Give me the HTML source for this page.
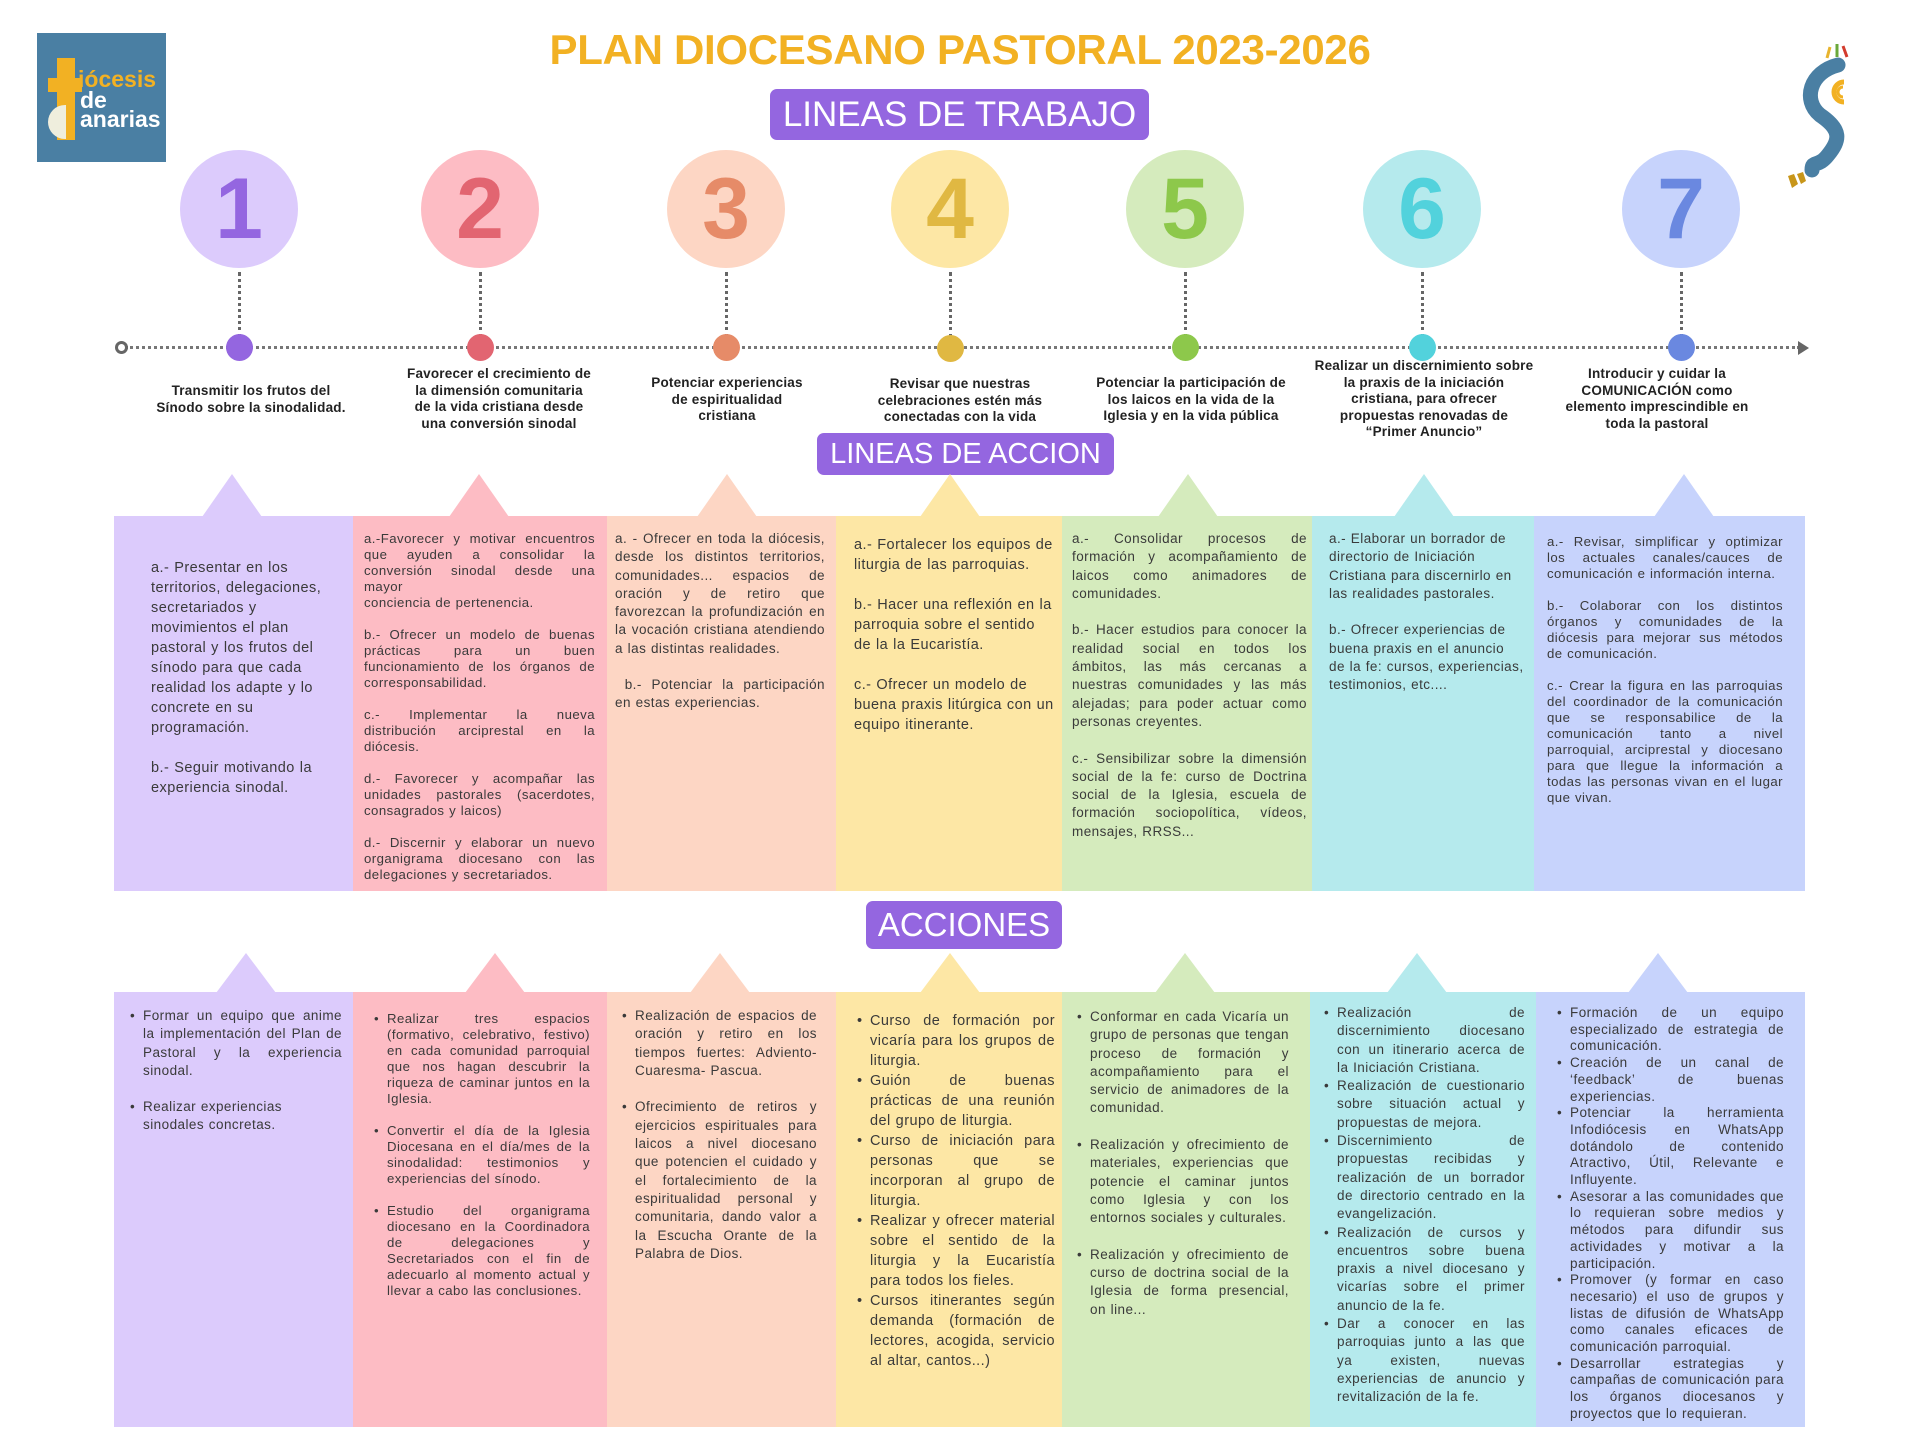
<!DOCTYPE html>
<html><head><meta charset="utf-8">
<style>
*{margin:0;padding:0;box-sizing:border-box}
body{width:1920px;height:1440px;background:#fff;position:relative;overflow:hidden;font-family:"Liberation Sans",sans-serif;color:#3a3a3a}
.a{position:absolute}
.title{left:0;width:1920px;top:26px;text-align:center;font-weight:bold;font-size:42px;color:#f2b123;letter-spacing:-0.3px}
.pill{background:#9466e0;color:#fff;border-radius:7px;text-align:center}
.circ{width:118px;height:118px;border-radius:50%;text-align:center;line-height:118px;font-weight:bold;font-size:86px}
.vd{width:0;border-left:3px dotted #666;top:272px;height:66px}
.dot{width:27px;height:27px;border-radius:50%;top:334px}
.lab{font-weight:bold;font-size:13.5px;line-height:16.6px;text-align:center;color:#222;width:250px;letter-spacing:0.2px}
.col{top:516px;height:375px}
.colb{top:992px;height:435px}
.tri{width:0;height:0;border-left:30px solid transparent;border-right:30px solid transparent}
.t{font-size:13.2px;line-height:16px;text-align:justify}
.t p{margin-bottom:16px}
.ls{letter-spacing:0.45px;word-spacing:0.5px}
ul{list-style:none}
li{position:relative;text-align:justify}
li:before{content:"•";position:absolute;left:-13px}
</style></head><body>

<!-- logo left -->
<div class="a" style="left:37px;top:33px;width:129px;height:129px;background:#4a7fa3"></div>
<div class="a" style="left:57px;top:58px;width:18px;height:82px;background:#f2b123"></div>
<div class="a" style="left:48px;top:78px;width:34px;height:14px;background:#f2b123"></div>
<div class="a" style="left:48px;top:105px;width:18px;height:34px;background:#efeedd;border-radius:17px 0 0 17px"></div>
<div class="a" style="left:78px;top:68px;font-weight:bold;font-size:23px;color:#f2b123;line-height:22px">iócesis</div>
<div class="a" style="left:80px;top:90px;font-weight:bold;font-size:23px;color:#fff;line-height:20px">de</div>
<div class="a" style="left:80px;top:108px;font-weight:bold;font-size:23px;color:#fff;line-height:22px">anarias</div>

<!-- logo right -->
<svg class="a" style="left:1780px;top:30px" width="140" height="170">
<path d="M58 35 C30 42 22 70 40 85 C62 100 60 110 48 125 C38 138 32 130 32 140" fill="none" stroke="#4a7fa3" stroke-width="15" stroke-linecap="round"/>
<path d="M64 52 A10 10 0 0 0 64 72" fill="none" stroke="#f2b123" stroke-width="5"/>
<path d="M63 57 A5 5 0 0 0 63 67" fill="none" stroke="#f2b123" stroke-width="3"/>
<line x1="47" y1="28" x2="50" y2="17" stroke="#e8b42e" stroke-width="3"/>
<line x1="57" y1="27" x2="57" y2="14" stroke="#6aa83a" stroke-width="3"/>
<line x1="67" y1="27" x2="63" y2="16" stroke="#d33c2e" stroke-width="3"/>
<path d="M8 146 l6 -2 l4 10 l-6 4z M17 144 l6 -2 l3 9 l-5 3z" fill="#c8961a"/>
</svg>

<div class="a title">PLAN DIOCESANO PASTORAL 2023-2026</div>
<div class="a pill" style="left:770px;top:89px;width:379px;height:51px;font-size:35px;line-height:51px">LINEAS DE TRABAJO</div>

<!-- circles -->
<div class="a circ" style="left:180px;top:150px;background:#dccbfc;color:#9466e0">1</div>
<div class="a circ" style="left:421px;top:150px;background:#fdbcc4;color:#e26571">2</div>
<div class="a circ" style="left:667px;top:150px;background:#fdd6c4;color:#e68b68">3</div>
<div class="a circ" style="left:891px;top:150px;background:#fde7a5;color:#e0b842">4</div>
<div class="a circ" style="left:1126px;top:150px;background:#d5ebbd;color:#8dc84b">5</div>
<div class="a circ" style="left:1363px;top:150px;background:#b5eaed;color:#52d2dc">6</div>
<div class="a circ" style="left:1622px;top:150px;background:#c7d3fc;color:#6a88e0">7</div>

<!-- timeline -->
<div class="a" style="left:125px;top:346px;width:1675px;border-top:3px dotted #777"></div>
<div class="a" style="left:115px;top:341px;width:13px;height:13px;border:3px solid #666;border-radius:50%;background:#fff"></div>
<div class="a" style="left:1798px;top:341px;width:0;height:0;border-top:7px solid transparent;border-bottom:7px solid transparent;border-left:11px solid #666"></div>
<div class="a vd" style="left:238px"></div>
<div class="a vd" style="left:479px"></div>
<div class="a vd" style="left:725px"></div>
<div class="a vd" style="left:949px"></div>
<div class="a vd" style="left:1184px"></div>
<div class="a vd" style="left:1421px"></div>
<div class="a vd" style="left:1680px"></div>
<div class="a dot" style="left:226px;background:#9466e0"></div>
<div class="a dot" style="left:467px;background:#e26571"></div>
<div class="a dot" style="left:713px;background:#e68b68"></div>
<div class="a dot" style="left:937px;top:335px;background:#e0b842"></div>
<div class="a dot" style="left:1172px;background:#8dc84b"></div>
<div class="a dot" style="left:1409px;background:#52d2dc"></div>
<div class="a dot" style="left:1668px;background:#6a88e0"></div>

<div class="a lab" style="left:126px;top:383px">Transmitir los frutos del<br>Sínodo sobre la sinodalidad.</div>
<div class="a lab" style="left:374px;top:366px">Favorecer el crecimiento de<br>la dimensión comunitaria<br>de la vida cristiana desde<br>una conversión sinodal</div>
<div class="a lab" style="left:602px;top:375px">Potenciar experiencias<br>de espiritualidad<br>cristiana</div>
<div class="a lab" style="left:835px;top:376px">Revisar que nuestras<br>celebraciones estén más<br>conectadas con la vida</div>
<div class="a lab" style="left:1066px;top:375px">Potenciar la participación de<br>los laicos en la vida de la<br>Iglesia y en la vida pública</div>
<div class="a lab" style="left:1295px;top:358px;width:258px">Realizar un discernimiento sobre<br>la praxis de la iniciación<br>cristiana, para ofrecer<br>propuestas renovadas de<br>“Primer Anuncio”</div>
<div class="a lab" style="left:1532px;top:366px">Introducir y cuidar la<br>COMUNICACIÓN como<br>elemento imprescindible en<br>toda la pastoral</div>

<div class="a pill" style="left:817px;top:433px;width:297px;height:42px;font-size:29px;line-height:42px">LINEAS DE ACCION</div>

<!-- row 1 triangles -->
<div class="a tri" style="left:202px;top:474px;border-bottom:43px solid #dccbfc"></div>
<div class="a tri" style="left:449px;top:474px;border-bottom:43px solid #fdbcc4"></div>
<div class="a tri" style="left:697px;top:474px;border-bottom:43px solid #fdd6c4"></div>
<div class="a tri" style="left:920px;top:474px;border-bottom:43px solid #fde7a5"></div>
<div class="a tri" style="left:1158px;top:474px;border-bottom:43px solid #d5ebbd"></div>
<div class="a tri" style="left:1394px;top:474px;border-bottom:43px solid #b5eaed"></div>
<div class="a tri" style="left:1654px;top:474px;border-bottom:43px solid #c7d3fc"></div>

<!-- row 1 columns -->
<div class="a col" style="left:114px;width:239px;background:#dccbfc"></div>
<div class="a col" style="left:353px;width:254px;background:#fdbcc4"></div>
<div class="a col" style="left:607px;width:229px;background:#fdd6c4"></div>
<div class="a col" style="left:836px;width:226px;background:#fde7a5"></div>
<div class="a col" style="left:1062px;width:250px;background:#d5ebbd"></div>
<div class="a col" style="left:1312px;width:222px;background:#b5eaed"></div>
<div class="a col" style="left:1534px;width:271px;background:#c7d3fc"></div>

<div class="a ls" style="left:151px;top:558px;width:182px;font-size:14.5px;line-height:20px">
<p style="margin-bottom:20px">a.- Presentar en los territorios, delegaciones, secretariados y movimientos el plan pastoral y los frutos del sínodo para que cada realidad los adapte y lo concrete en su programación.</p>
<p>b.- Seguir motivando la experiencia sinodal.</p></div>

<div class="a t ls" style="left:364px;top:531px;width:231px">
<p>a.-Favorecer y motivar encuentros que ayuden a consolidar la conversión sinodal desde una mayor<br>conciencia de pertenencia.</p>
<p>b.- Ofrecer un modelo de buenas prácticas para un buen funcionamiento de los órganos de corresponsabilidad.</p>
<p>c.- Implementar la nueva distribución arciprestal en la diócesis.</p>
<p>d.- Favorecer y acompañar las unidades pastorales (sacerdotes, consagrados y laicos)</p>
<p>d.- Discernir y elaborar un nuevo organigrama diocesano con las delegaciones y secretariados.</p></div>

<div class="a t ls" style="left:615px;top:530px;width:210px;font-size:13.5px;line-height:18.3px">
<p style="margin-bottom:18px">a. - Ofrecer en toda la diócesis, desde los distintos territorios, comunidades... espacios de oración y de retiro que favorezcan la profundización en la vocación cristiana atendiendo a las distintas realidades.</p>
<p>&nbsp;b.- Potenciar la participación en estas experiencias.</p></div>

<div class="a ls" style="left:854px;top:535px;width:200px;font-size:14.5px;line-height:20px">
<p style="margin-bottom:20px">a.- Fortalecer los equipos de liturgia de las parroquias.</p>
<p style="margin-bottom:20px">b.- Hacer una reflexión en la parroquia sobre el sentido de la la Eucaristía.</p>
<p>c.- Ofrecer un modelo de buena praxis litúrgica con un equipo itinerante.</p></div>

<div class="a t ls" style="left:1072px;top:530px;width:235px;font-size:13.5px;line-height:18.3px">
<p style="margin-bottom:18.3px">a.- Consolidar procesos de formación y acompañamiento de laicos como animadores de comunidades.</p>
<p style="margin-bottom:18.3px">b.- Hacer estudios para conocer la realidad social en todos los ámbitos, las más cercanas a nuestras comunidades y las más alejadas; para poder actuar como personas creyentes.</p>
<p>c.- Sensibilizar sobre la dimensión social de la fe: curso de Doctrina social de la Iglesia, escuela de formación sociopolítica, vídeos, mensajes, RRSS...</p></div>

<div class="a ls" style="left:1329px;top:530px;width:195px;font-size:13.5px;line-height:18.3px">
<p style="margin-bottom:18.3px">a.- Elaborar un borrador de directorio de Iniciación Cristiana para discernirlo en las realidades pastorales.</p>
<p>b.- Ofrecer experiencias de buena praxis en el anuncio de la fe: cursos, experiencias, testimonios, etc....</p></div>

<div class="a t ls" style="left:1547px;top:534px;width:236px">
<p>a.- Revisar, simplificar y optimizar los actuales canales/cauces de comunicación e información interna.</p>
<p>b.- Colaborar con los distintos órganos y comunidades de la diócesis para mejorar sus métodos de comunicación.</p>
<p>c.- Crear la figura en las parroquias del coordinador de la comunicación que se responsabilice de la comunicación tanto a nivel parroquial, arciprestal y diocesano para que llegue la información a todas las personas vivan en el lugar que vivan.</p></div>

<div class="a pill" style="left:866px;top:901px;width:196px;height:48px;font-size:33px;line-height:48px">ACCIONES</div>

<!-- row 2 triangles -->
<div class="a tri" style="left:216px;top:953px;border-bottom:40px solid #dccbfc"></div>
<div class="a tri" style="left:465px;top:953px;border-bottom:40px solid #fdbcc4"></div>
<div class="a tri" style="left:690px;top:953px;border-bottom:40px solid #fdd6c4"></div>
<div class="a tri" style="left:920px;top:953px;border-bottom:40px solid #fde7a5"></div>
<div class="a tri" style="left:1155px;top:953px;border-bottom:40px solid #d5ebbd"></div>
<div class="a tri" style="left:1387px;top:953px;border-bottom:40px solid #b5eaed"></div>
<div class="a tri" style="left:1628px;top:953px;border-bottom:40px solid #c7d3fc"></div>

<div class="a colb" style="left:114px;width:239px;background:#dccbfc"></div>
<div class="a colb" style="left:353px;width:254px;background:#fdbcc4"></div>
<div class="a colb" style="left:607px;width:229px;background:#fdd6c4"></div>
<div class="a colb" style="left:836px;width:226px;background:#fde7a5"></div>
<div class="a colb" style="left:1062px;width:248px;background:#d5ebbd"></div>
<div class="a colb" style="left:1310px;width:226px;background:#b5eaed"></div>
<div class="a colb" style="left:1536px;width:269px;background:#c7d3fc"></div>

<ul class="a ls" style="left:143px;top:1007px;width:199px;font-size:13.5px;line-height:18.3px">
<li style="margin-bottom:18px">Formar un equipo que anime la implementación del Plan de Pastoral y la experiencia sinodal.</li>
<li style="text-align:left">Realizar experiencias sinodales concretas.</li></ul>

<ul class="a ls" style="left:387px;top:1011px;width:203px;font-size:13.2px;line-height:16px">
<li style="margin-bottom:16px">Realizar tres espacios (formativo, celebrativo, festivo) en cada comunidad parroquial que nos hagan descubrir la riqueza de caminar juntos en la Iglesia.</li>
<li style="margin-bottom:16px">Convertir el día de la Iglesia Diocesana en el día/mes de la sinodalidad: testimonios y experiencias del sínodo.</li>
<li>Estudio del organigrama diocesano en la Coordinadora de delegaciones y Secretariados con el fin de adecuarlo al momento actual y llevar a cabo las conclusiones.</li></ul>

<ul class="a ls" style="left:635px;top:1007px;width:182px;font-size:13.5px;line-height:18.3px">
<li style="margin-bottom:18.3px">Realización de espacios de oración y retiro en los tiempos fuertes: Adviento-Cuaresma- Pascua.</li>
<li>Ofrecimiento de retiros y ejercicios espirituales para laicos a nivel diocesano que potencien el cuidado y el fortalecimiento de la espiritualidad personal y comunitaria, dando valor a la Escucha Orante de la Palabra de Dios.</li></ul>

<ul class="a ls" style="left:870px;top:1011px;width:185px;font-size:14.5px;line-height:20px">
<li>Curso de formación por vicaría para los grupos de liturgia.</li>
<li>Guión de buenas prácticas de una reunión del grupo de liturgia.</li>
<li>Curso de iniciación para personas que se incorporan al grupo de liturgia.</li>
<li>Realizar y ofrecer material sobre el sentido de la liturgia y la Eucaristía para todos los fieles.</li>
<li>Cursos itinerantes según demanda (formación de lectores, acogida, servicio al altar, cantos...)</li></ul>

<ul class="a ls" style="left:1090px;top:1008px;width:199px;font-size:13.5px;line-height:18.3px">
<li style="margin-bottom:18.3px">Conformar en cada Vicaría un grupo de personas que tengan proceso de formación y acompañamiento para el servicio de animadores de la comunidad.</li>
<li style="margin-bottom:18.3px">Realización y ofrecimiento de materiales, experiencias que potencie el caminar juntos como Iglesia y con los entornos sociales y culturales.</li>
<li>Realización y ofrecimiento de curso de doctrina social de la Iglesia de forma presencial, on line...</li></ul>

<ul class="a ls" style="left:1337px;top:1004px;width:188px;font-size:13.5px;line-height:18.3px">
<li>Realización de discernimiento diocesano con un itinerario acerca de la Iniciación Cristiana.</li>
<li>Realización de cuestionario sobre situación actual y propuestas de mejora.</li>
<li>Discernimiento de propuestas recibidas y realización de un borrador de directorio centrado en la evangelización.</li>
<li>Realización de cursos y encuentros sobre buena praxis a nivel diocesano y vicarías sobre el primer anuncio de la fe.</li>
<li>Dar a conocer en las parroquias junto a las que ya existen, nuevas experiencias de anuncio y revitalización de la fe.</li></ul>

<ul class="a ls" style="left:1570px;top:1005px;width:214px;font-size:13.5px;line-height:16.7px">
<li>Formación de un equipo especializado de estrategia de comunicación.</li>
<li>Creación de un canal de ‘feedback’ de buenas experiencias.</li>
<li>Potenciar la herramienta Infodiócesis en WhatsApp dotándolo de contenido Atractivo, Útil, Relevante e Influyente.</li>
<li>Asesorar a las comunidades que lo requieran sobre medios y métodos para difundir sus actividades y motivar a la participación.</li>
<li>Promover (y formar en caso necesario) el uso de grupos y listas de difusión de WhatsApp como canales eficaces de comunicación parroquial.</li>
<li>Desarrollar estrategias y campañas de comunicación para los órganos diocesanos y proyectos que lo requieran.</li></ul>

</body></html>
